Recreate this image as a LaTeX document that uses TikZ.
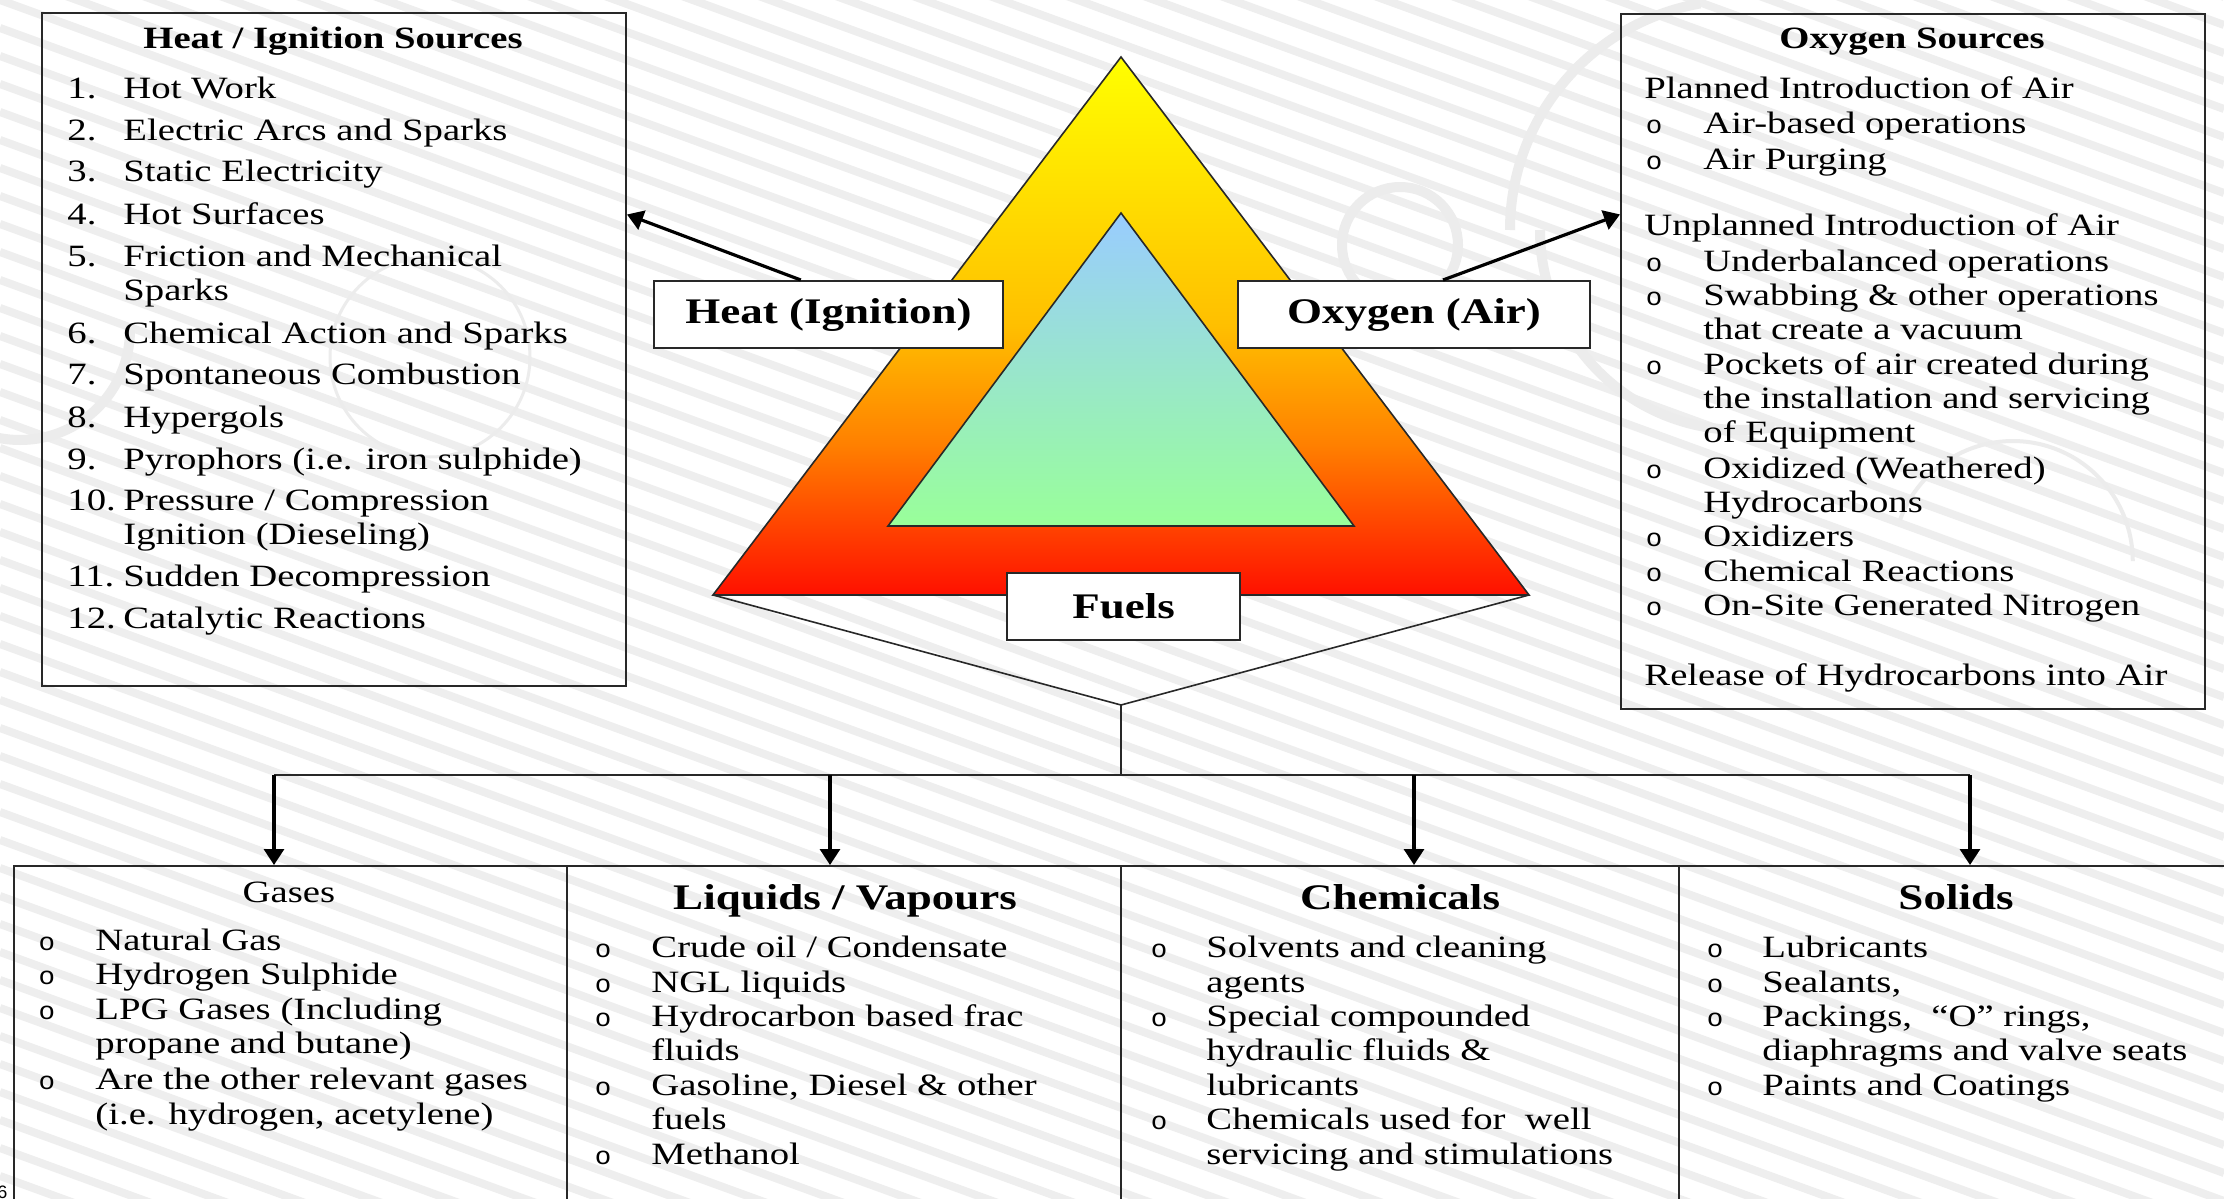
\documentclass[tikz,border=0pt]{standalone}
\usepackage{fontspec}
\setmainfont{Liberation Serif}
\newfontfamily\tfont[FakeStretch=1.25]{Liberation Serif}
\newfontfamily\bulfont[FakeStretch=1.1]{Liberation Mono}
\newfontfamily\nfont{Liberation Sans}
\usetikzlibrary{arrows.meta,calc}
\definecolor{fOrange}{RGB}{255,128,0}
\definecolor{fAmber}{RGB}{255,191,0}
\definecolor{fRed}{RGB}{255,16,0}
\definecolor{iBlue}{RGB}{153,204,255}
\definecolor{iGreen}{RGB}{153,255,153}
\definecolor{lineC}{RGB}{40,40,40}
\definecolor{stripeC}{RGB}{238,238,238}
\definecolor{swirlC}{RGB}{236,236,236}
\pgfdeclareverticalshading{fire}{100bp}{color(0bp)=(fRed); color(25bp)=(fRed); color(39bp)=(fOrange); color(50bp)=(fAmber); color(75bp)=(yellow); color(100bp)=(yellow)}
\begin{document}
\begin{tikzpicture}[x=0.5pt,y=-0.5pt,
  stripe/.style={stripeC, line width=4pt},
  swirl/.style={swirlC, line width=5pt},
  boxC/.style={draw=lineC, line width=1pt, inner sep=0pt, anchor=north west},
  lbl/.style={draw=lineC, line width=1pt, fill=white, inner sep=0pt, minimum height=33.5pt,
     font=\tfont\bfseries\fontsize{18}{20}\selectfont},
  thinln/.style={lineC, line width=0.8pt},
  bigarrow/.style={black, line width=1.6pt, -{Triangle[length=8pt,width=10pt]}},
  itm/.style={anchor=base west, inner sep=0pt, font=\tfont\fontsize{15.5}{17}\selectfont},
  ttl/.style={anchor=base, inner sep=0pt, font=\tfont\bfseries\fontsize{15.5}{17}\selectfont},
  bttl/.style={anchor=base, inner sep=0pt, font=\tfont\bfseries\fontsize{18}{20}\selectfont},
  rttl/.style={anchor=base, inner sep=0pt, font=\tfont\fontsize{15.5}{17}\selectfont},
  bul/.style={anchor=base, inner sep=0pt, font=\bulfont\fontsize{12.5}{17}\selectfont}
]
\useasboundingbox (0,0) rectangle (2224,1199);
\clip (0,0) rectangle (2224,1199);
\fill[white] (0,0) rectangle (2224,1199);
% background stripes
\foreach \c in {-840,-812,...,1220} {\draw[stripe] (0,\c) -- (2224,\c+809);}
% faint swirls
\draw[swirl] (1400,245) circle (58);
\draw[swirl] (1540,230) arc (180:80:200);
\draw[swirl] (1510,230) arc (180:260:230);
\draw[swirlC, line width=1.5pt] (430,357) circle (100);
\draw[swirl] (130,330) arc (0:250:110);
\draw[swirlC, line width=2pt] (1900,520) arc (200:360:120);
% fire triangle
\coordinate (oA) at (1121,57);
\coordinate (oL) at (713,595);
\coordinate (oR) at (1529,595);
\coordinate (iA) at (1121,213);
\coordinate (iL) at (888,526);
\coordinate (iR) at (1354,526);
\draw[lineC, line width=0.8pt, shade, shading=fire] (oA) -- (oL) -- (oR) -- cycle;
\draw[lineC, line width=0.8pt, top color=iBlue, bottom color=iGreen] (iA) -- (iL) -- (iR) -- cycle;
% funnel and distribution lines
\coordinate (fun) at (1121,705);
\coordinate (hub) at (1121,775);
\coordinate (b1) at (274,775);
\coordinate (b2) at (830,775);
\coordinate (b3) at (1414,775);
\coordinate (b4) at (1970,775);
\draw[thinln] (oL) -- (fun) -- (oR);
\draw[thinln] (fun) -- (hub);
\draw[thinln] (b1) -- (b4);
% label boxes
\node[lbl, minimum width=174.5pt] (heatlbl) at (828.5,314.5) {Heat (Ignition)};
\node[lbl, minimum width=176pt] (oxylbl) at (1414,314.5) {Oxygen (Air)};
\node[lbl, minimum width=116.5pt] (fuellbl) at (1123.5,606.5) {Fuels};
% source boxes
\node[boxC, minimum width=292pt, minimum height=336.5pt] (heatsrc) at (41,12) {};
\node[boxC, minimum width=292pt, minimum height=347.5pt] (oxysrc) at (1620,13) {};
% bottom boxes
\node[boxC, minimum width=276.5pt, minimum height=190pt] (gasbox) at (13,865) {};
\node[boxC, minimum width=277pt, minimum height=190pt] (liqbox) at (566,865) {};
\node[boxC, minimum width=279pt, minimum height=190pt] (chembox) at (1120,865) {};
\node[boxC, minimum width=280pt, minimum height=190pt] (solbox) at (1678,865) {};
% arrows
\draw[bigarrow] ($(heatlbl.north west)!0.421!(heatlbl.north east)$) -- ($(heatsrc.north east)!0.300!(heatsrc.south east)$);
\draw[bigarrow] ($(oxylbl.north west)!0.582!(oxylbl.north east)$) -- ($(oxysrc.north west)!0.289!(oxysrc.south west)$);
\draw[bigarrow] (b1) -- (b1 |- gasbox.north);
\draw[bigarrow] (b2) -- (b2 |- liqbox.north);
\draw[bigarrow] (b3) -- (b3 |- chembox.north);
\draw[bigarrow] (b4) -- (b4 |- solbox.north);
% heat sources text
\node[ttl] (ht) at (333,48) {Heat / Ignition Sources};
\node[itm] (hn1) at (67,98) {1.};
\node[itm] (hn2) at (67,140.5) {2.};
\node[itm] (hn3) at (67,181.6) {3.};
\node[itm] (hn4) at (67,224) {4.};
\node[itm] (hn5) at (67,266.7) {5.};
\node[itm] (hn6) at (67,343) {6.};
\node[itm] (hn7) at (67,384) {7.};
\node[itm] (hn8) at (67,427) {8.};
\node[itm] (hn9) at (67,469.5) {9.};
\node[itm] (hn10) at (67,510.7) {10.};
\node[itm] (hn11) at (67,586) {11.};
\node[itm] (hn12) at (67,628) {12.};
\node[itm] (hl1) at (123,98) {Hot Work};
\node[itm] (hl2) at (123,140.5) {Electric Arcs and Sparks};
\node[itm] (hl3) at (123,181.6) {Static Electricity};
\node[itm] (hl4) at (123,224) {Hot Surfaces};
\node[itm] (hl5) at (123,266.7) {Friction and Mechanical};
\node[itm] (hl5b) at (123,300.8) {Sparks};
\node[itm] (hl6) at (123,343) {Chemical Action and Sparks};
\node[itm] (hl7) at (123,384) {Spontaneous Combustion};
\node[itm] (hl8) at (123,427) {Hypergols};
\node[itm] (hl9) at (123,469.5) {Pyrophors (i.e. iron sulphide)};
\node[itm] (hl10) at (123,510.7) {Pressure / Compression};
\node[itm] (hl10b) at (123,544.7) {Ignition (Dieseling)};
\node[itm] (hl11) at (123,586) {Sudden Decompression};
\node[itm] (hl12) at (123,628) {Catalytic Reactions};
% oxygen sources text
\node[ttl] (ot) at (1912,48) {Oxygen Sources};
\node[itm] (oh1) at (1644,98) {Planned Introduction of Air};
\node[bul] (ob1) at (1654,133) {o};
\node[itm] (ol1) at (1703,133) {Air-based operations};
\node[bul] (ob2) at (1654,169) {o};
\node[itm] (ol2) at (1703,169) {Air Purging};
\node[itm] (oh2) at (1644,235.5) {Unplanned Introduction of Air};
\node[bul] (ob3) at (1654,271) {o};
\node[itm] (ol3) at (1703,271) {Underbalanced operations};
\node[bul] (ob4) at (1654,305) {o};
\node[itm] (ol4) at (1703,305) {Swabbing \& other operations};
\node[itm] (ol4b) at (1703,339) {that create a vacuum};
\node[bul] (ob5) at (1654,374.5) {o};
\node[itm] (ol5) at (1703,374.5) {Pockets of air created during};
\node[itm] (ol5b) at (1703,408.6) {the installation and servicing};
\node[itm] (ol5c) at (1703,442.6) {of Equipment};
\node[bul] (ob6) at (1654,478) {o};
\node[itm] (ol6) at (1703,478) {Oxidized (Weathered)};
\node[itm] (ol6b) at (1703,512) {Hydrocarbons};
\node[bul] (ob7) at (1654,546) {o};
\node[itm] (ol7) at (1703,546) {Oxidizers};
\node[bul] (ob8) at (1654,581.6) {o};
\node[itm] (ol8) at (1703,581.6) {Chemical Reactions};
\node[bul] (ob9) at (1654,615.6) {o};
\node[itm] (ol9) at (1703,615.6) {On-Site Generated Nitrogen};
\node[itm] (oh3) at (1644,685) {Release of Hydrocarbons into Air};
% gases
\node[rttl] (gt) at (289,902) {Gases};
\node[bul] (gb1) at (47,950) {o};
\node[itm] (gl1) at (95,950) {Natural Gas};
\node[bul] (gb2) at (47,984) {o};
\node[itm] (gl2) at (95,984) {Hydrogen Sulphide};
\node[bul] (gb3) at (47,1019.5) {o};
\node[itm] (gl3) at (95,1019.5) {LPG Gases (Including};
\node[itm] (gl3b) at (95,1053.5) {propane and butane)};
\node[bul] (gb4) at (47,1089.5) {o};
\node[itm] (gl4) at (95,1089.5) {Are the other relevant gases};
\node[itm] (gl4b) at (95,1124.5) {(i.e. hydrogen, acetylene)};
% liquids
\node[bttl] (lt) at (845,909) {Liquids / Vapours};
\node[bul] (lb1) at (603,957.5) {o};
\node[itm] (ll1) at (651,957.5) {Crude oil / Condensate};
\node[bul] (lb2) at (603,992) {o};
\node[itm] (ll2) at (651,992) {NGL liquids};
\node[bul] (lb3) at (603,1026) {o};
\node[itm] (ll3) at (651,1026) {Hydrocarbon based frac};
\node[itm] (ll3b) at (651,1060) {fluids};
\node[bul] (lb4) at (603,1095) {o};
\node[itm] (ll4) at (651,1095) {Gasoline, Diesel \& other};
\node[itm] (ll4b) at (651,1129) {fuels};
\node[bul] (lb5) at (603,1164.5) {o};
\node[itm] (ll5) at (651,1164.5) {Methanol};
% chemicals
\node[bttl] (ct) at (1400,909) {Chemicals};
\node[bul] (cb1) at (1159,957.5) {o};
\node[itm] (cl1) at (1206,957.5) {Solvents and cleaning};
\node[itm] (cl1b) at (1206,992) {agents};
\node[bul] (cb2) at (1159,1026) {o};
\node[itm] (cl2) at (1206,1026) {Special compounded};
\node[itm] (cl2b) at (1206,1060) {hydraulic fluids \&};
\node[itm] (cl2c) at (1206,1095) {lubricants};
\node[bul] (cb3) at (1159,1129) {o};
\node[itm] (cl3) at (1206,1129) {Chemicals used for\ \ well};
\node[itm] (cl3b) at (1206,1164.5) {servicing and stimulations};
% solids
\node[bttl] (st) at (1956,909) {Solids};
\node[bul] (sb1) at (1715,957.5) {o};
\node[itm] (sl1) at (1762,957.5) {Lubricants};
\node[bul] (sb2) at (1715,992) {o};
\node[itm] (sl2) at (1762,992) {Sealants,};
\node[bul] (sb3) at (1715,1026) {o};
\node[itm] (sl3) at (1762,1026) {Packings,\ \ “O” rings,};
\node[itm] (sl3b) at (1762,1060) {diaphragms and valve seats};
\node[bul] (sb4) at (1715,1095) {o};
\node[itm] (sl4) at (1762,1095) {Paints and Coatings};
% page number fragment
\node[anchor=base west, inner sep=0pt, font=\nfont\fontsize{9}{10}\selectfont] (pg) at (-3,1198) {6};
\end{tikzpicture}
\end{document}
